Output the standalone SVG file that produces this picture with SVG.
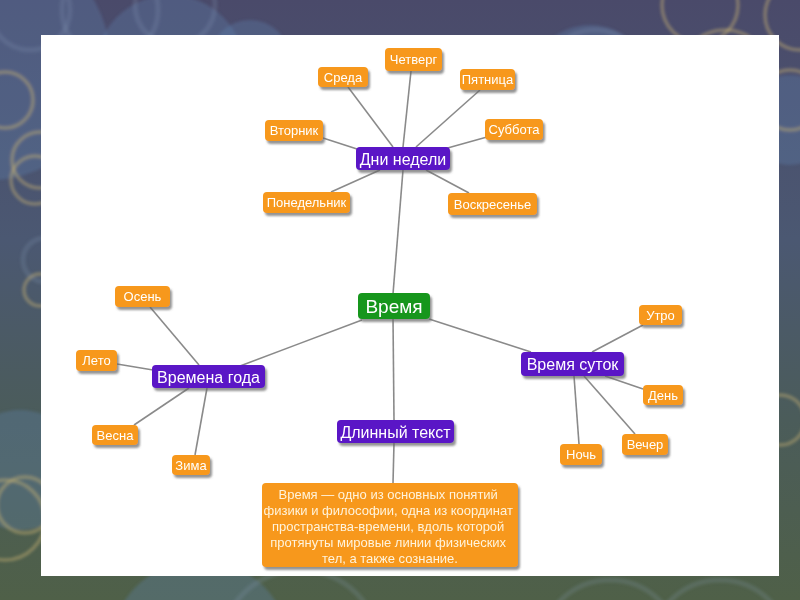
<svg xmlns="http://www.w3.org/2000/svg" width="800" height="600" viewBox="0 0 800 600">
<defs>
<linearGradient id="bg" x1="0" y1="0" x2="0" y2="1">
<stop offset="0" stop-color="#4a4a6a"/>
<stop offset="0.4" stop-color="#4b5872"/>
<stop offset="0.7" stop-color="#4b5c5a"/>
<stop offset="1" stop-color="#4f6048"/>
</linearGradient>
<filter id="sh" x="-20%" y="-30%" width="150%" height="180%">
<feDropShadow dx="2" dy="3" stdDeviation="1.3" flood-color="#666" flood-opacity="0.7"/>
</filter>
<filter id="blur"><feGaussianBlur stdDeviation="1.5"/></filter>
</defs>
<style>
.o{fill:#f7981a}
.p{fill:#5a12c6}
.g{fill:#17961f}
.t{font-family:"Liberation Sans",Arial,sans-serif;fill:#fff;text-anchor:middle}
.s{font-size:13px}
.m{font-size:16px}
.b{font-size:19px}
.l{stroke:#8a8a8a;stroke-width:1.6;fill:none}
.bk{fill:#5f86b4;opacity:0.3}
.rg{fill:none;stroke:#c8b274;stroke-width:3.5;opacity:0.45}
.rw{fill:none;stroke:#8fa8c0;stroke-width:5;opacity:0.18}
</style>
<rect width="800" height="600" fill="url(#bg)"/>
<g id="background" filter="url(#blur)">
<circle class="bk" cx="-10" cy="60" r="120"/>
<circle class="bk" cx="170" cy="70" r="75"/>
<circle class="bk" cx="250" cy="60" r="40"/>
<circle class="rw" cx="30" cy="10" r="40"/>
<circle class="rw" cx="110" cy="10" r="48"/>
<circle class="rw" cx="175" cy="5" r="40"/>
<circle class="bk" cx="590" cy="85" r="60"/>
<circle class="rw" cx="595" cy="80" r="50"/>
<circle class="rg" cx="700" cy="5" r="38"/>
<circle class="rg" cx="800" cy="15" r="35"/>
<circle class="rg" cx="725" cy="75" r="45"/>
<circle class="rg" cx="5" cy="100" r="28"/>
<circle class="rg" cx="40" cy="160" r="28"/>
<circle class="rg" cx="35" cy="180" r="24"/>
<circle class="rw" cx="45" cy="260" r="22"/>
<circle class="rg" cx="40" cy="290" r="16"/>
<circle class="bk" cx="20" cy="470" r="60"/>
<circle class="rg" cx="25" cy="505" r="28"/>
<circle class="rg" cx="5" cy="520" r="40"/>
<circle class="bk" cx="790" cy="120" r="45"/>
<circle class="rg" cx="790" cy="100" r="30"/>
<circle class="rg" cx="780" cy="420" r="25"/>
<circle class="bk" cx="200" cy="650" r="90"/>
<circle class="rw" cx="300" cy="650" r="80"/>
<circle class="rw" cx="610" cy="650" r="70"/>
<circle class="rw" cx="720" cy="650" r="70"/>
</g>
<rect x="41" y="35" width="738" height="541" fill="#fff"/>
<g id="connectors">
<line class="l" x1="393" y1="294" x2="403" y2="170"/>
<line class="l" x1="362" y1="320" x2="240" y2="366"/>
<line class="l" x1="429" y1="319" x2="531" y2="352"/>
<line class="l" x1="393" y1="318" x2="394" y2="420"/>
<line class="l" x1="394" y1="443" x2="393" y2="483"/>
<line class="l" x1="403" y1="147" x2="411" y2="71"/>
<line class="l" x1="393" y1="147" x2="348" y2="87"/>
<line class="l" x1="416" y1="147" x2="480" y2="90"/>
<line class="l" x1="357" y1="149" x2="323" y2="138"/>
<line class="l" x1="444" y1="149" x2="487" y2="137"/>
<line class="l" x1="380" y1="170" x2="331" y2="192"/>
<line class="l" x1="426" y1="170" x2="469" y2="193"/>
<line class="l" x1="199" y1="365" x2="150" y2="307"/>
<line class="l" x1="153" y1="370" x2="117" y2="364"/>
<line class="l" x1="189" y1="388" x2="134" y2="425"/>
<line class="l" x1="207" y1="388" x2="195" y2="455"/>
<line class="l" x1="592" y1="352" x2="643" y2="325"/>
<line class="l" x1="605" y1="376" x2="643" y2="389"/>
<line class="l" x1="584" y1="376" x2="635" y2="434"/>
<line class="l" x1="574" y1="376" x2="579" y2="444"/>
</g>
<g id="n-vremya" filter="url(#sh)"><rect class="g" x="358" y="293" width="72" height="26" rx="4"/><text class="t b" x="394" y="313">Время</text></g>
<g id="n-dni" filter="url(#sh)"><rect class="p" x="356" y="147" width="94" height="23" rx="4"/><text class="t m" x="403" y="164.5">Дни недели</text></g>
<g id="n-goda" filter="url(#sh)"><rect class="p" x="152" y="365" width="113" height="23" rx="4"/><text class="t m" x="208.5" y="382.5">Времена года</text></g>
<g id="n-sutok" filter="url(#sh)"><rect class="p" x="521" y="352" width="103" height="24" rx="4"/><text class="t m" x="572.5" y="370">Время суток</text></g>
<g id="n-dlinny" filter="url(#sh)"><rect class="p" x="337" y="420" width="117" height="23" rx="4"/><text class="t m" x="395.5" y="437.5">Длинный текст</text></g>
<g id="n-chetverg" filter="url(#sh)"><rect class="o" x="385" y="48" width="57" height="23" rx="4"/><text class="t s" x="413.5" y="64">Четверг</text></g>
<g id="n-sreda" filter="url(#sh)"><rect class="o" x="318" y="67" width="50" height="20" rx="4"/><text class="t s" x="343" y="81.5">Среда</text></g>
<g id="n-pyatnica" filter="url(#sh)"><rect class="o" x="460" y="69" width="55" height="21" rx="4"/><text class="t s" x="487.5" y="84">Пятница</text></g>
<g id="n-vtornik" filter="url(#sh)"><rect class="o" x="265" y="120" width="58" height="21" rx="4"/><text class="t s" x="294" y="135">Вторник</text></g>
<g id="n-subbota" filter="url(#sh)"><rect class="o" x="485" y="119" width="58" height="21" rx="4"/><text class="t s" x="514" y="134">Суббота</text></g>
<g id="n-ponedelnik" filter="url(#sh)"><rect class="o" x="263" y="192" width="87" height="21" rx="4"/><text class="t s" x="306.5" y="207">Понедельник</text></g>
<g id="n-voskresenie" filter="url(#sh)"><rect class="o" x="448" y="193" width="89" height="22" rx="4"/><text class="t s" x="492.5" y="208.5">Воскресенье</text></g>
<g id="n-osen" filter="url(#sh)"><rect class="o" x="115" y="286" width="55" height="21" rx="4"/><text class="t s" x="142.5" y="301">Осень</text></g>
<g id="n-leto" filter="url(#sh)"><rect class="o" x="76" y="350" width="41" height="21" rx="4"/><text class="t s" x="96.5" y="365">Лето</text></g>
<g id="n-vesna" filter="url(#sh)"><rect class="o" x="92" y="425" width="46" height="20" rx="4"/><text class="t s" x="115" y="439.5">Весна</text></g>
<g id="n-zima" filter="url(#sh)"><rect class="o" x="172" y="455" width="38" height="20" rx="4"/><text class="t s" x="191" y="469.5">Зима</text></g>
<g id="n-utro" filter="url(#sh)"><rect class="o" x="639" y="305" width="43" height="20" rx="4"/><text class="t s" x="660.5" y="319.5">Утро</text></g>
<g id="n-den" filter="url(#sh)"><rect class="o" x="643" y="385" width="40" height="20" rx="4"/><text class="t s" x="663" y="399.5">День</text></g>
<g id="n-vecher" filter="url(#sh)"><rect class="o" x="622" y="434" width="46" height="21" rx="4"/><text class="t s" x="645" y="449">Вечер</text></g>
<g id="n-noch" filter="url(#sh)"><rect class="o" x="560" y="444" width="42" height="21" rx="4"/><text class="t s" x="581" y="459">Ночь</text></g>
<g id="n-text" filter="url(#sh)"><rect class="o" x="262" y="483" width="256" height="84" rx="4"/>
<text class="t s" style="fill:#fff3dc">
<tspan x="390" y="499">Время — одно из основных понятий</tspan>
<tspan x="390" y="515">физики и философии, одна из координат</tspan>
<tspan x="390" y="531">пространства-времени, вдоль которой</tspan>
<tspan x="390" y="547">протянуты мировые линии физических</tspan>
<tspan x="390" y="563">тел, а также сознание.</tspan>
</text></g>
</svg>
